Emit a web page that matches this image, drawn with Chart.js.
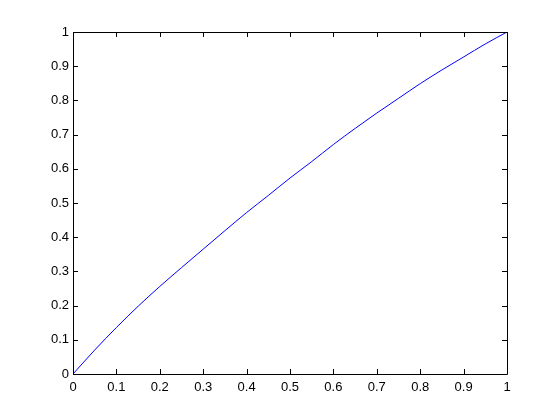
<!DOCTYPE html>
<html>
<head>
<meta charset="utf-8">
<script src="https://cdn.jsdelivr.net/npm/chart.js@4.4.0/dist/chart.umd.min.js"></script>
<style>
html,body{margin:0;padding:0;background:#fff;}
#c{display:block;}
</style>
</head>
<body>
<canvas id="c" width="560" height="420"></canvas>
<script>
const xValues = [0,0.05,0.1,0.15,0.2,0.25,0.3,0.35,0.4,0.45,0.5,0.55,0.6,0.65,0.7,0.75,0.8,0.85,0.9,0.95,1];
const yValues = [0,0.07,0.136,0.198,0.256,0.311,0.365,0.419,0.472,0.522,0.573,0.621,0.671,0.718,0.763,0.806,0.849,0.889,0.927,0.965,1];
const tickValues = [0,0.1,0.2,0.3,0.4,0.5,0.6,0.7,0.8,0.9,1];
const tickLabels = ['0','0.1','0.2','0.3','0.4','0.5','0.6','0.7','0.8','0.9','1'];

const points = xValues.map((x,i)=>({x:x,y:yValues[i]}));

const boxTicks = {
  id:'boxTicks',
  afterDraw(chart){
    const ctx = chart.ctx, a = chart.chartArea;
    const xs = chart.scales.x, ys = chart.scales.y;
    const L = 5;
    ctx.save();
    ctx.strokeStyle = '#000';
    ctx.lineWidth = 1;
    ctx.beginPath();
    ctx.rect(Math.round(a.left)+0.5, Math.round(a.top)+0.5, Math.round(a.right-a.left), Math.round(a.bottom-a.top));
    tickValues.forEach(v=>{
      const px = Math.round(xs.getPixelForValue(v))+0.5;
      ctx.moveTo(px, a.bottom); ctx.lineTo(px, a.bottom-L);
      ctx.moveTo(px, a.top); ctx.lineTo(px, a.top+L);
      const py = Math.round(ys.getPixelForValue(v))+0.5;
      ctx.moveTo(a.left, py); ctx.lineTo(a.left+L, py);
      ctx.moveTo(a.right, py); ctx.lineTo(a.right-L, py);
    });
    ctx.stroke();
    ctx.restore();
  }
};

new Chart(document.getElementById('c'), {
  type:'line',
  data:{datasets:[{data:points,borderColor:'#0000ff',borderWidth:1,pointRadius:0,fill:false,cubicInterpolationMode:'monotone'}]},
  options:{
    responsive:false,
    animation:false,
    devicePixelRatio:1,
    layout:{padding:{left:0,right:53,top:32,bottom:0}},
    plugins:{legend:{display:false},tooltip:{enabled:false}},
    scales:{
      x:{type:'linear',min:0,max:1,
        afterBuildTicks(s){s.ticks = tickValues.map(v=>({value:v}));},
        afterFit(s){s.height = 46;},
        grid:{display:false,drawTicks:false},
        border:{display:false},
        ticks:{padding:6,maxRotation:0,autoSkip:false,color:'#000',font:{family:'Liberation Sans, Arial, sans-serif',size:13},
          callback:(v,i)=>tickLabels[i]}},
      y:{type:'linear',min:0,max:1,
        afterBuildTicks(s){s.ticks = tickValues.map(v=>({value:v}));},
        afterFit(s){s.width = 73;},
        grid:{display:false,drawTicks:false},
        border:{display:false},
        ticks:{padding:4,autoSkip:false,color:'#000',font:{family:'Liberation Sans, Arial, sans-serif',size:13},
          callback:(v,i)=>tickLabels[i]}}
    }
  },
  plugins:[boxTicks]
});
</script>
</body>
</html>
